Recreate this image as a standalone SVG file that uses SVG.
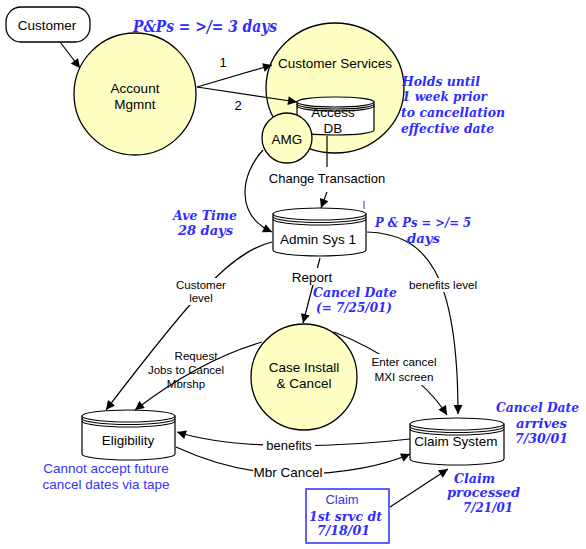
<svg xmlns="http://www.w3.org/2000/svg" width="586" height="549" viewBox="0 0 586 549">
<defs>
<style>
.nd{fill:#ffffc4;stroke:#000;stroke-width:1.3}
.cy{fill:#fff;stroke:#000;stroke-width:1.2}
.ln{fill:none;stroke:#000;stroke-width:1.2}
.t{font-family:"Liberation Sans",Arial,sans-serif;fill:#000;text-anchor:middle}
.n{font-size:13.5px}
.s{font-size:12px}
.bi{font-family:"DejaVu Serif",serif;font-weight:bold;font-style:italic;fill:#2d2dff;font-size:13px}
.bs{font-family:"Liberation Sans",Arial,sans-serif;fill:#3333ff;font-size:13.5px;text-anchor:middle}
.bg{fill:#fff;stroke:none}
</style>
<marker id="ah" viewBox="0 0 10 10" refX="10" refY="5" markerWidth="11" markerHeight="9" markerUnits="userSpaceOnUse" orient="auto">
<path d="M0,0 L10,5 L0,10 z" fill="#000"/>
</marker>
</defs>
<rect width="586" height="549" fill="#fff"/>

<g id="customer">
<rect x="6" y="7" width="84" height="35" rx="15" fill="#fff" stroke="#000" stroke-width="1.3"/>
<text class="t n" x="47" y="30">Customer</text>
</g>

<g id="account-mgmnt">
<circle class="nd" cx="135" cy="94" r="61"/>
<text class="t n" x="135" y="93">Account</text>
<text class="t n" x="135" y="109">Mgmnt</text>
</g>

<g id="customer-services">
<ellipse class="nd" cx="335" cy="88" rx="69" ry="65"/>
<text class="t n" x="335" y="68">Customer Services</text>
</g>

<g id="access-db">
<path class="cy" d="M297,102 L297,130 A38.5,5 0 0 0 374,130 L374,102 Z"/>
<ellipse class="cy" cx="335.5" cy="102" rx="38.5" ry="5"/>
<path class="ln" d="M297,104 A38.5,5 0 0 0 374,104 M297,106 A38.5,5 0 0 0 374,106"/>
<text class="t n" x="333" y="117">Access</text>
<text class="t n" x="333" y="133">DB</text>
</g>

<g id="amg">
<circle class="nd" cx="287" cy="138" r="25"/>
<text class="t n" x="287" y="144">AMG</text>
</g>

<g id="admin-sys-1">
<path class="cy" d="M273,214 L273,250 A46.5,6 0 0 0 366,250 L366,214 Z"/>
<ellipse class="cy" cx="319.5" cy="214" rx="46.5" ry="6"/>
<path class="ln" d="M273,216.5 A46.5,6 0 0 0 366,216.5 M273,219 A46.5,6 0 0 0 366,219"/>
<text class="t n" x="318" y="244">Admin Sys 1</text>
</g>

<g id="case-install">
<circle class="nd" cx="304" cy="377" r="53"/>
<text class="t n" x="304" y="372">Case Install</text>
<text class="t n" x="304" y="388">&amp; Cancel</text>
</g>

<g id="eligibility">
<path class="cy" d="M82,416 L82,454 A46.5,6 0 0 0 175,454 L175,416 Z"/>
<ellipse class="cy" cx="128.5" cy="416" rx="46.5" ry="6"/>
<path class="ln" d="M82,418.5 A46.5,6 0 0 0 175,418.5 M82,421 A46.5,6 0 0 0 175,421"/>
<text class="t n" x="128" y="445">Eligibility</text>
</g>

<g id="claim-system">
<path class="cy" d="M410,424 L410,459 A47,6 0 0 0 504,459 L504,424 Z"/>
<ellipse class="cy" cx="457" cy="424" rx="47" ry="6"/>
<path class="ln" d="M410,426.5 A47,6 0 0 0 504,426.5 M410,429 A47,6 0 0 0 504,429"/>
<text class="t n" x="456" y="446">Claim System</text>
</g>

<g id="claim-box">
<rect x="306" y="489" width="83" height="54" fill="#fff" stroke="#2d2dff" stroke-width="1.5"/>
<text class="bs" x="342" y="504" style="font-size:13px">Claim</text>
<text class="bi" x="309" y="521" textLength="73" lengthAdjust="spacingAndGlyphs">1st srvc dt</text>
<text class="bi" x="317" y="535" textLength="53" lengthAdjust="spacingAndGlyphs">7/18/01</text>
</g>

<g id="connectors">
<path class="ln" d="M60,42 L80,68" marker-end="url(#ah)"/>
<path class="ln" d="M197,87 L272,65" marker-end="url(#ah)"/>
<path class="ln" d="M197,87 L297,102" marker-end="url(#ah)"/>
<path class="ln" d="M327,136 L327,167"/>
<path class="ln" d="M327,192 L321,208" marker-end="url(#ah)"/>
<path class="ln" d="M263,150 C240,175 235,215 272,232" marker-end="url(#ah)"/>
<path class="ln" d="M367,232 C425,234 458,270 458,414" marker-end="url(#ah)"/>
<path class="ln" d="M272,242 C230,252 190,300 106,410" marker-end="url(#ah)"/>
<path class="ln" d="M320,258 L303,323" marker-end="url(#ah)"/>
<path class="ln" d="M262,342 Q200,360 135,410" marker-end="url(#ah)"/>
<path class="ln" d="M334,332 C380,350 425,380 447,415" marker-end="url(#ah)"/>
<path class="ln" d="M410,439 C350,446 240,452 177,432" marker-end="url(#ah)"/>
<path class="ln" d="M176,447 C215,465 255,474 295,474 C345,474 385,465 410,454" marker-end="url(#ah)"/>
<path class="ln" d="M390,507 L448,469" marker-end="url(#ah)"/>
<rect class="bg" x="170" y="278" width="62" height="27"/>
<rect class="bg" x="291" y="268" width="43" height="17"/>
<rect class="bg" x="405" y="278" width="76" height="14"/>
<rect class="bg" x="369" y="354" width="72" height="31"/>
<rect class="bg" x="263" y="439" width="52" height="14"/>
<rect class="bg" x="253" y="465" width="71" height="15"/>
<text class="t n" x="223" y="67" style="font-size:13px">1</text>
<text class="t n" x="238" y="110" style="font-size:13px">2</text>
<text class="t" x="327" y="183" style="font-size:13px">Change Transaction</text>
<text class="t" x="201" y="289" style="font-size:11.5px">Customer</text>
<text class="t" x="201" y="302" style="font-size:11.5px">level</text>
<text class="t" x="312" y="282" style="font-size:13.5px">Report</text>
<text class="t" x="443" y="289" style="font-size:11.7px">benefits level</text>
<text class="t" x="196" y="360" style="font-size:11.5px">Request</text>
<text class="t" x="186" y="374" style="font-size:11.5px">Jobs to Cancel</text>
<text class="t" x="186" y="388" style="font-size:11.5px">Mbrshp</text>
<text class="t" x="404" y="366" style="font-size:11.7px">Enter cancel</text>
<text class="t" x="404" y="381" style="font-size:11.7px">MXI screen</text>
<text class="t" x="289" y="450" style="font-size:13px">benefits</text>
<text class="t" x="288" y="477" style="font-size:13.5px">Mbr Cancel</text>
</g>

<g id="annotations">
<text class="bi" x="133" y="32" style="font-size:16px" textLength="144" lengthAdjust="spacingAndGlyphs">P&amp;Ps = &gt;/= 3 days</text>
<text class="bi" x="402" y="86" textLength="78" lengthAdjust="spacingAndGlyphs">Holds until</text>
<text class="bi" x="402" y="101" textLength="85" lengthAdjust="spacingAndGlyphs">1 week prior</text>
<text class="bi" x="401" y="117" textLength="104" lengthAdjust="spacingAndGlyphs">to cancellation</text>
<text class="bi" x="401" y="133" textLength="93" lengthAdjust="spacingAndGlyphs">effective date</text>
<text class="bi" x="173" y="220" textLength="64" lengthAdjust="spacingAndGlyphs">Ave Time</text>
<text class="bi" x="178" y="235" textLength="55" lengthAdjust="spacingAndGlyphs">28 days</text>
<text class="bi" x="375" y="227" textLength="96" lengthAdjust="spacingAndGlyphs">P &amp; Ps = &gt;/= 5</text>
<text class="bi" x="407" y="243" textLength="33" lengthAdjust="spacingAndGlyphs">days</text>
<line x1="364" y1="201" x2="364" y2="209" stroke="#2d2dff" stroke-width="1"/>
<text class="bi" x="313" y="297" textLength="84" lengthAdjust="spacingAndGlyphs">Cancel Date</text>
<text class="bi" x="316" y="312" textLength="76" lengthAdjust="spacingAndGlyphs">(= 7/25/01)</text>
<text class="bi" x="496" y="412" textLength="83" lengthAdjust="spacingAndGlyphs">Cancel Date</text>
<text class="bi" x="516" y="428" textLength="51" lengthAdjust="spacingAndGlyphs">arrives</text>
<text class="bi" x="515" y="443" textLength="53" lengthAdjust="spacingAndGlyphs">7/30/01</text>
<text class="bi" x="454" y="483" textLength="41" lengthAdjust="spacingAndGlyphs">Claim</text>
<text class="bi" x="447" y="497" textLength="73" lengthAdjust="spacingAndGlyphs">processed</text>
<text class="bi" x="463" y="512" textLength="50" lengthAdjust="spacingAndGlyphs">7/21/01</text>
<text class="bs" x="106" y="473">Cannot accept future</text>
<text class="bs" x="106" y="489">cancel dates via tape</text>
</g>
</svg>
